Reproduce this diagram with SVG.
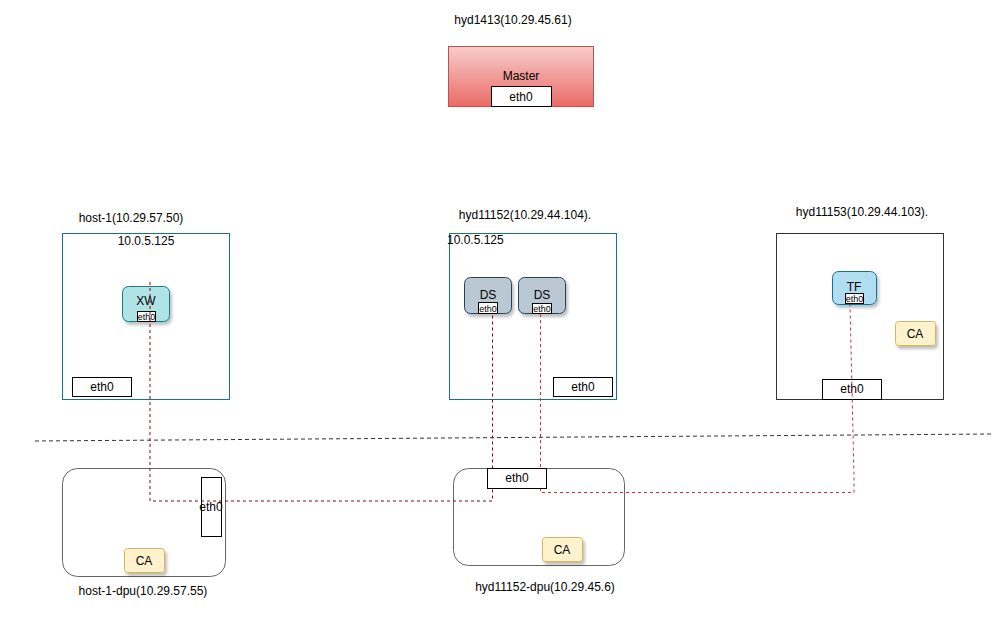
<svg xmlns="http://www.w3.org/2000/svg" width="1000" height="621" viewBox="0 0 1000 621">
<style>
text{font-family:"Liberation Sans",Arial,sans-serif;font-size:12px;fill:#000;text-anchor:middle}
.sm{font-size:9px}
.host{fill:#fff;stroke-width:1}
.port{fill:#fff;stroke:#000;stroke-width:1}
.ca{fill:#fff2cc;stroke:#d6b656;filter:url(#sh)}
.link1{fill:none;stroke:#990000;stroke-dasharray:3 3}
.link2{fill:none;stroke:#cc3333;stroke-dasharray:3 3}
</style>
<defs>
<linearGradient id="mg" x1="0" y1="0" x2="0" y2="1"><stop offset="0" stop-color="#f8cecc"/><stop offset="1" stop-color="#ea6b66"/></linearGradient>
<filter id="sh" x="-20%" y="-20%" width="150%" height="160%"><feDropShadow dx="2" dy="3" stdDeviation="1.5" flood-color="#000" flood-opacity="0.25"/></filter>
</defs>
<line x1="35" y1="441" x2="992" y2="434" stroke="#333" stroke-dasharray="4 3"/>
<g id="master">
<text x="513" y="24">hyd1413(10.29.45.61)</text>
<rect x="448.5" y="46.5" width="145" height="60" fill="url(#mg)" stroke="#b85450"/>
<text x="521" y="80">Master</text>
<rect class="port" x="491.5" y="86.5" width="60" height="20"/>
<text x="521" y="101">eth0</text>
</g>
<g id="host1">
<text x="131" y="222">host-1(10.29.57.50)</text>
<rect class="host" x="62.5" y="233.5" width="167" height="166" stroke="#10739e"/>
<text x="146" y="245">10.0.5.125</text>
<rect class="port" x="72.5" y="377.5" width="59" height="19"/>
<text x="102" y="391">eth0</text>
</g>
<g id="xw">
<rect x="122.5" y="286.5" width="47" height="35" rx="6" fill="#b0e3e6" stroke="#0e8088" filter="url(#sh)"/>
<text x="146" y="305">XW</text>
<rect class="port" x="137.5" y="311.5" width="18" height="10" stroke="#555"/>
<text class="sm" x="146.5" y="320">eth0</text>
</g>
<g id="hyd11152">
<text x="525" y="219">hyd11152(10.29.44.104).</text>
<rect class="host" x="449.5" y="233.5" width="167" height="166" stroke="#10739e"/>
<text x="447" y="244" style="text-anchor:start">10.0.5.125</text>
<rect class="port" x="553.5" y="377.5" width="59" height="19"/>
<text x="583" y="391">eth0</text>
</g>
<g id="ds1">
<rect x="464.5" y="277.5" width="47" height="36" rx="6" fill="#bac8d3" stroke="#23445d" filter="url(#sh)"/>
<text x="488" y="299">DS</text>
<rect class="port" x="478.5" y="302.5" width="19" height="11" stroke="#555"/>
<text class="sm" x="488" y="311.5">eth0</text>
</g>
<g id="ds2">
<rect x="518.5" y="277.5" width="47" height="36" rx="6" fill="#bac8d3" stroke="#23445d" filter="url(#sh)"/>
<text x="542" y="299">DS</text>
<rect class="port" x="532.5" y="303.5" width="19" height="10"/>
<text class="sm" x="542" y="312">eth0</text>
</g>
<g id="hyd11153">
<text x="862" y="216">hyd11153(10.29.44.103).</text>
<rect class="host" x="776.5" y="233.5" width="167" height="166" stroke="#333"/>
<rect class="port" x="822.5" y="379.5" width="59" height="20"/>
<text x="852" y="393">eth0</text>
</g>
<g id="tf">
<rect x="832.5" y="271.5" width="44" height="33" rx="6" fill="#b1ddf0" stroke="#10739e" filter="url(#sh)"/>
<text x="854" y="291">TF</text>
<rect class="port" x="845.5" y="293.5" width="18" height="10"/>
<text class="sm" x="854.5" y="302">eth0</text>
</g>
<g id="ca3">
<rect class="ca" x="895.5" y="321.5" width="40" height="24" rx="3"/>
<text x="915" y="338">CA</text>
</g>
<g id="host1dpu">
<rect x="62.5" y="468.5" width="163" height="108" rx="15" fill="#fff" stroke="#666"/>
<text x="143" y="595">host-1-dpu(10.29.57.55)</text>
</g>
<g id="hyd11152dpu">
<rect x="453.5" y="468.5" width="171" height="97" rx="15" fill="#fff" stroke="#666"/>
<text x="545" y="591">hyd11152-dpu(10.29.45.6)</text>
</g>
<g id="ca1">
<rect class="ca" x="124.5" y="548.5" width="40" height="24" rx="3"/>
<text x="144" y="565">CA</text>
</g>
<g id="ca2">
<rect class="ca" x="542.5" y="537.5" width="40" height="24" rx="3"/>
<text x="562" y="554">CA</text>
</g>
<g id="connectors">
<path class="link1" d="M150 282V501H492.5V314"/>
<path class="link2" d="M540.5 314V492.5H854V476L850 305"/>
</g>
<g id="dpu-ports">
<rect x="201.5" y="477.5" width="20" height="59" fill="none" stroke="#000"/>
<text x="211" y="511">eth0</text>
<rect class="port" x="487.5" y="468.5" width="59" height="20"/>
<text x="517" y="482">eth0</text>
</g>
</svg>
